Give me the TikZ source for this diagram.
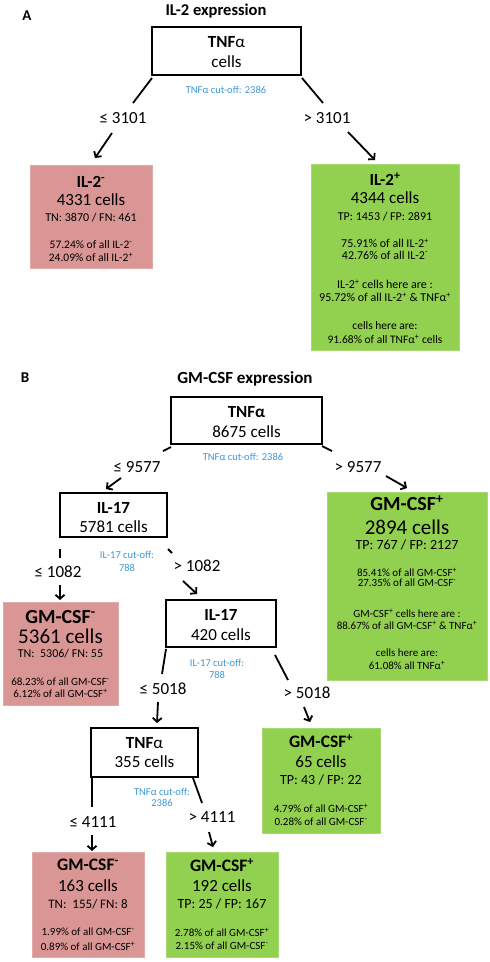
\documentclass[tikz,border=0pt]{standalone}
\usepackage{fontspec}
\setmainfont{Carlito}
\usetikzlibrary{arrows.meta}
\definecolor{redbox}{HTML}{D99694}
\definecolor{greenbox}{HTML}{92D050}
\definecolor{cutblue}{HTML}{3D98D8}
\begin{document}
\begin{tikzpicture}[x=1pt,y=-1pt,
  tx/.style={inner sep=0pt, text depth=0pt, font=\fontsize{#1}{#1}\selectfont},
  bx/.style={inner sep=0pt, text depth=0pt, font=\bfseries\fontsize{#1}{#1}\selectfont},
  cut/.style={tx=10.5, text=cutblue},
  lab/.style={tx=17},
  dbox/.style={draw=black, line width=2pt, fill=white, inner sep=0pt},
  rbox/.style={fill=redbox, draw=redbox!80!white, line width=0.6pt, inner sep=0pt},
  gbox/.style={fill=greenbox, draw=greenbox!80!white, line width=0.6pt, inner sep=0pt},
  conn/.style={line width=1.8pt},
  arr/.style={line width=1.8pt, -{Straight Barb[length=4pt,width=9pt]}}
]
\useasboundingbox (0,0) rectangle (490,962);

%%%%%%%%%%%%%%%% Panel A
\node[bx=15] (Alab) at (27,16) {A};
\node[bx=16.5] (Atitle) at (216,10) {IL-2 expression};

\node[dbox, minimum width=149, minimum height=48] (tnfA) at (226.5,51) {};
\node[bx=17] (tnfAh) at (226.5,42) {TNF{\mdseries α}};
\node[tx=17] (tnfAc) at (226.5,62) {cells};
\node[cut] (cutA) at (226,90) {TNFα cut-off: 2386};

\coordinate (A1s) at (152,78);
\coordinate (A1e) at (133,103);
\node[lab] (leA) at (123,118) {≤ 3101};
\coordinate (A2s) at (112,133);
\coordinate (A2e) at (95,158);
\draw[conn] (A1s) -- (A1e);
\draw[arr] (A2s) -- (A2e);

\coordinate (A3s) at (302,78);
\coordinate (A3e) at (323,103);
\node[lab] (gtA) at (327,118) {> 3101};
\coordinate (A4s) at (348,132);
\coordinate (A4e) at (375,160);
\draw[conn] (A3s) -- (A3e);
\draw[arr] (A4s) -- (A4e);

\node[rbox, minimum width=122, minimum height=103] (il2neg) at (91,216.5) {};
\node[bx=17] (il2negA) at (91,182) {IL-2\textsuperscript{-}};
\node[tx=17] (il2negB) at (91,200) {4331 cells};
\node[tx=12] (il2negC) at (91,217) {TN: 3870 / FN: 461};
\node[tx=11.5] (il2negD) at (91,245) {57.24\% of all IL-2\textsuperscript{-}};
\node[tx=11.5] (il2negE) at (91,257) {24.09\% of all IL-2\textsuperscript{+}};

\node[gbox, minimum width=148, minimum height=186] (il2pos) at (385,257) {};
\node[bx=17] (il2posA) at (385,179) {IL-2\textsuperscript{+}};
\node[tx=17] (il2posB) at (385,198) {4344 cells};
\node[tx=12] (il2posC) at (385,216) {TP: 1453 / FP: 2891};
\node[tx=12] (il2posD) at (385,243) {75.91\% of all IL-2\textsuperscript{+}};
\node[tx=12] (il2posE) at (385,255) {42.76\% of all IL-2\textsuperscript{-}};
\node[tx=12] (il2posF) at (385,284.5) {IL-2\textsuperscript{+} cells here are :};
\node[tx=12] (il2posG) at (385,297.5) {95.72\% of all IL-2\textsuperscript{+} \& TNFα\textsuperscript{+}};
\node[tx=11.5] (il2posH) at (385,326) {cells here are:};
\node[tx=11.5] (il2posI) at (385,339) {91.68\% of all TNFα\textsuperscript{+} cells};

%%%%%%%%%%%%%%%% Panel B
\node[bx=15] (Blab) at (25,378) {B};
\node[bx=17] (Btitle) at (245,378) {GM-CSF expression};

\node[dbox, minimum width=151, minimum height=47] (tnfB) at (246.5,420.5) {};
\node[bx=17] (tnfBh) at (246.5,412) {TNFα};
\node[tx=17] (tnfBc) at (246.5,432) {8675 cells};
\node[cut] (cutB) at (243,457) {TNFα cut-off: 2386};

\coordinate (B1s) at (171,447);
\coordinate (B1e) at (163,451);
\node[lab] (leB) at (137,467) {≤ 9577};
\coordinate (B2s) at (121,478);
\coordinate (B2e) at (106,489);
\draw[conn] (B1s) -- (B1e);
\draw[arr] (B2s) -- (B2e);

\coordinate (B3s) at (322,446);
\coordinate (B3e) at (332,451);
\node[lab] (gtB) at (358,467) {> 9577};
\coordinate (B4s) at (386,476);
\coordinate (B4e) at (407,488);
\draw[conn] (B3s) -- (B3e);
\draw[arr] (B4s) -- (B4e);

% IL-17 (5781)
\node[dbox, minimum width=107, minimum height=44] (il17a) at (113.5,515) {};
\node[bx=17] (il17aH) at (113.5,508) {IL-17};
\node[tx=17] (il17aC) at (113.5,527) {5781 cells};
\node[cut] (cutC1) at (127,555) {IL-17 cut-off:};
\node[cut] (cutC2) at (127,568) {788};

\coordinate (C1s) at (60,549);
\coordinate (C1e) at (60,558);
\node[lab] (leC) at (58,572) {≤ 1082};
\coordinate (C2s) at (60,585);
\coordinate (C2e) at (60,600);
\draw[conn] (C1s) -- (C1e);
\draw[arr] (C2s) -- (C2e);

\coordinate (C3s) at (168,549);
\coordinate (C3e) at (172,553);
\node[lab] (gtC) at (197,566) {> 1082};
\coordinate (C4s) at (183,581);
\coordinate (C4e) at (197,594);
\draw[conn] (C3s) -- (C3e);
\draw[arr] (C4s) -- (C4e);

% GM-CSF- 5361
\node[rbox, minimum width=115, minimum height=103] (gmneg1) at (60.5,653.5) {};
\node[bx=20] (gmneg1A) at (60.5,617) {GM-CSF\textsuperscript{-}};
\node[tx=21] (gmneg1B) at (60.5,636) {5361 cells};
\node[tx=12] (gmneg1C) at (60.5,653) {TN:~ 5306/ FN: 55};
\node[tx=11] (gmneg1D) at (60.5,682) {68.23\% of all GM-CSF\textsuperscript{-}};
\node[tx=11] (gmneg1E) at (60.5,693) {6.12\% of all GM-CSF\textsuperscript{+}};

% GM-CSF+ 2894
\node[gbox, minimum width=160, minimum height=188] (gmpos1) at (407,586) {};
\node[bx=20] (gmpos1A) at (407,503) {GM-CSF\textsuperscript{+}};
\node[tx=21] (gmpos1B) at (407,527) {2894 cells};
\node[tx=14] (gmpos1C) at (407,545) {TP: 767 / FP: 2127};
\node[tx=11] (gmpos1D) at (407,572) {85.41\% of all GM-CSF\textsuperscript{+}};
\node[tx=11] (gmpos1E) at (407,583) {27.35\% of all GM-CSF\textsuperscript{-}};
\node[tx=11] (gmpos1F) at (407,613) {GM-CSF\textsuperscript{+} cells here are :};
\node[tx=11] (gmpos1G) at (407,625) {88.67\% of all GM-CSF\textsuperscript{+} \& TNFα\textsuperscript{+}};
\node[tx=11] (gmpos1H) at (407,653) {cells here are:};
\node[tx=11] (gmpos1I) at (407,665) {61.08\% all TNFα\textsuperscript{+}};

% IL-17 (420)
\node[dbox, minimum width=110, minimum height=47] (il17b) at (221,623.5) {};
\node[bx=17] (il17bH) at (221,615) {IL-17};
\node[tx=17] (il17bC) at (221,635) {420 cells};
\node[cut] (cutD1) at (217,663) {IL-17 cut-off:};
\node[cut] (cutD2) at (217,675) {788};

\coordinate (D1s) at (166,649);
\coordinate (D1e) at (162,674);
\node[lab] (leD) at (163,689) {≤ 5018};
\coordinate (D2s) at (158,702);
\coordinate (D2e) at (157,723);
\draw[conn] (D1s) -- (D1e);
\draw[arr] (D2s) -- (D2e);

\coordinate (D3s) at (275,655);
\coordinate (D3e) at (288,680);
\node[lab] (gtD) at (307,693) {> 5018};
\coordinate (D4s) at (304,707);
\coordinate (D4e) at (310,722);
\draw[conn] (D3s) -- (D3e);
\draw[arr] (D4s) -- (D4e);

% GM-CSF+ 65
\node[gbox, minimum width=118, minimum height=105] (gmpos2) at (321,780.5) {};
\node[bx=17.5] (gmpos2A) at (321,741) {GM-CSF\textsuperscript{+}};
\node[tx=17] (gmpos2B) at (321,762) {65 cells};
\node[tx=14] (gmpos2C) at (321,780) {TP: 43 / FP: 22};
\node[tx=11] (gmpos2D) at (321,808) {4.79\% of all GM-CSF\textsuperscript{+}};
\node[tx=11] (gmpos2E) at (321,822) {0.28\% of all GM-CSF\textsuperscript{-}};

% TNFa (355)
\node[dbox, minimum width=107, minimum height=49] (tnfC) at (144.5,752.5) {};
\node[bx=17] (tnfCh) at (144.5,743) {TNF{\mdseries α}};
\node[tx=17] (tnfCc) at (144.5,762) {355 cells};
\node[cut] (cutE1) at (162,792) {TNFα cut-off:};
\node[cut] (cutE2) at (162,803) {2386};

\coordinate (E1s) at (92,778);
\coordinate (E1e) at (92,807);
\node[lab] (leE) at (93,822) {≤ 4111};
\coordinate (E2s) at (92,835);
\coordinate (E2e) at (92,851);
\draw[conn] (E1s) -- (E1e);
\draw[arr] (E2s) -- (E2e);

\coordinate (E3s) at (193,778);
\coordinate (E3e) at (202,803);
\node[lab] (gtE) at (212,817) {> 4111};
\coordinate (E4s) at (209,832);
\coordinate (E4e) at (213,847);
\draw[conn] (E3s) -- (E3e);
\draw[arr] (E4s) -- (E4e);

% GM-CSF- 163
\node[rbox, minimum width=112, minimum height=105] (gmneg2) at (88,904.5) {};
\node[bx=17.5] (gmneg2A) at (88,865) {GM-CSF\textsuperscript{-}};
\node[tx=17] (gmneg2B) at (88,886) {163 cells};
\node[tx=13] (gmneg2C) at (88,904) {TN:~ 155/ FN: 8};
\node[tx=11] (gmneg2D) at (88,932) {1.99\% of all GM-CSF\textsuperscript{-}};
\node[tx=11] (gmneg2E) at (88,946) {0.89\% of all GM-CSF\textsuperscript{+}};

% GM-CSF+ 192
\node[gbox, minimum width=112, minimum height=105] (gmpos3) at (222,904.5) {};
\node[bx=17.5] (gmpos3A) at (222,865) {GM-CSF\textsuperscript{+}};
\node[tx=17] (gmpos3B) at (222,886) {192 cells};
\node[tx=14] (gmpos3C) at (222,904) {TP: 25 / FP: 167};
\node[tx=11] (gmpos3D) at (222,932) {2.78\% of all GM-CSF\textsuperscript{+}};
\node[tx=11] (gmpos3E) at (222,946) {2.15\% of all GM-CSF\textsuperscript{-}};
\end{tikzpicture}
\end{document}
